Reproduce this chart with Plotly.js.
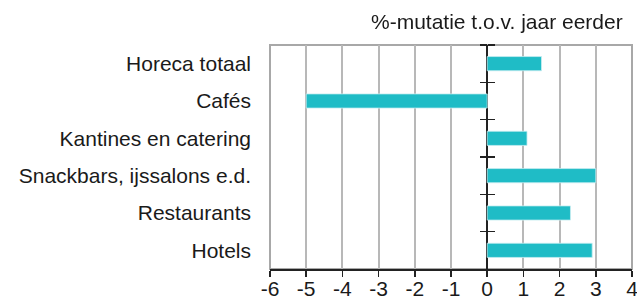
<!DOCTYPE html>
<html>
<head>
<meta charset="utf-8">
<script src="https://cdn.plot.ly/plotly-3.0.1.min.js"></script>
<style>html,body{margin:0;padding:0;background:#fff;}#chart{width:637px;height:302px;}</style>
</head>
<body>
<div id="chart"></div>
<script>
const categories = ["Horeca totaal", "Cafés", "Kantines en catering", "Snackbars, ijssalons e.d.", "Restaurants", "Hotels"];
const values = [1.5, -5.0, 1.1, 3.0, 2.3, 2.9];
const xTicks = [-6, -5, -4, -3, -2, -1, 0, 1, 2, 3, 4];
const unitLabel = "%-mutatie t.o.v. jaar eerder";

const font = {family: "Liberation Sans, Arial, sans-serif", size: 21, color: "#1a1a1a"};

const traces = [
  {type: "bar", orientation: "h", x: values, y: categories, width: 0.38,
   marker: {color: "#1fbcc6", line: {color: "#c8eef1", width: 0.8}},
   hoverinfo: "x+y", xaxis: "x", yaxis: "y"},
  {type: "scatter", mode: "markers", x: values, y: categories, opacity: 0,
   hoverinfo: "skip", showlegend: false, xaxis: "x", yaxis: "y2"},
  {type: "scatter", mode: "markers", x: values, y: categories, opacity: 0,
   hoverinfo: "skip", showlegend: false, xaxis: "x", yaxis: "y3"}
];

const zeroPos = (0 - xTicks[0]) / (xTicks[xTicks.length - 1] - xTicks[0]);

const layout = {
  width: 637, height: 302,
  margin: {l: 270, r: 4.5, t: 45, b: 33, pad: 0},
  paper_bgcolor: "#fff", plot_bgcolor: "#fff",
  font: font,
  showlegend: false,
  xaxis: {
    range: [xTicks[0], xTicks[xTicks.length - 1]],
    tickvals: xTicks, ticktext: xTicks.map(String),
    showgrid: true, gridcolor: "#b8b8b8", gridwidth: 2,
    zeroline: true, zerolinecolor: "#222", zerolinewidth: 2,
    showline: true, linecolor: "#222", linewidth: 2,
    ticks: "outside", ticklen: 6, tickwidth: 1.5, tickcolor: "#222",
    tickfont: font, ticklabelstandoff: -6, ticklabeloverflow: "allow", fixedrange: true
  },
  yaxis: {
    type: "category", categoryarray: categories, categoryorder: "array",
    autorange: false, range: [5.5, -0.5],
    showgrid: false, zeroline: false, showline: false, ticks: "",
    tickfont: font, ticklabelstandoff: 18, fixedrange: true
  },
  yaxis2: {
    type: "category", categoryarray: categories, categoryorder: "array",
    overlaying: "y", matches: "y", anchor: "free", position: zeroPos, side: "left",
    showgrid: false, zeroline: false, showline: false, showticklabels: false,
    tickson: "boundaries", ticks: "outside", ticklen: 7, tickwidth: 1.5, tickcolor: "#222"
  },
  yaxis3: {
    type: "category", categoryarray: categories, categoryorder: "array",
    overlaying: "y", matches: "y", anchor: "free", position: zeroPos, side: "right",
    showgrid: false, zeroline: false, showline: false, showticklabels: false,
    tickson: "boundaries", ticks: "outside", ticklen: 7, tickwidth: 1.5, tickcolor: "#222"
  },
  shapes: [
    {type: "rect", xref: "paper", yref: "paper", x0: 0, x1: 1, y0: 0, y1: 1,
     line: {color: "#a8a8a8", width: 2}, layer: "below"}
  ],
  annotations: [
    {text: unitLabel, xref: "paper", yref: "paper", x: 1, y: 1, xanchor: "right", yanchor: "middle",
     xshift: -7, yshift: 24, showarrow: false, font: font}
  ]
};

Plotly.newPlot("chart", traces, layout, {staticPlot: true, displayModeBar: false});
</script>
</body>
</html>
